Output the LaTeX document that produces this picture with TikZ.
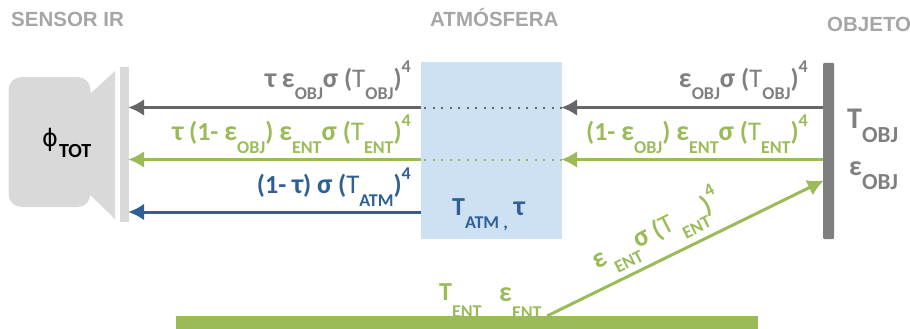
\documentclass[tikz,border=0pt]{standalone}
\usepackage{fontspec}
\setmainfont{Carlito}
\newfontfamily\titulo{Liberation Sans}
\newfontfamily\simbolo{DejaVu Sans}
\usetikzlibrary{arrows.meta,calc}
\definecolor{azul}{HTML}{2E5F96}
\definecolor{verde}{HTML}{9BBB59}
\definecolor{gris}{HTML}{7F7F7F}
\definecolor{grisosc}{HTML}{666666}
\definecolor{grisclaro}{HTML}{D9D9D9}
\definecolor{grisletra}{HTML}{A6A6A6}
\definecolor{celeste}{HTML}{CEE1F3}
\newcommand{\bajo}[1]{\raisebox{-13pt}{\fontsize{18}{18}\selectfont\bfseries #1}}
\newcommand{\bajog}[1]{\raisebox{-14pt}{\fontsize{23}{23}\selectfont\bfseries #1}}
\newcommand{\hundido}[1]{\raisebox{-17pt}{\fontsize{18}{18}\selectfont\bfseries #1}}
\newcommand{\alto}{\raisebox{14pt}{\fontsize{18}{18}\selectfont\bfseries 4}}
\newcommand{\fino}{{\mdseries\fontsize{27}{27}\selectfont T}}
\newcommand{\griega}[1]{{\fontsize{28}{28}\selectfont #1}}
\tikzset{
  etiqueta/.style={inner sep=0pt, font=\fontsize{26}{26}\selectfont\bfseries},
  encabezado/.style={inner sep=0pt, text=grisletra, font=\titulo\fontsize{20.5}{20.5}\selectfont\bfseries},
  flecha/.style={-{Latex[length=16pt,width=17pt]}, line width=3pt, shorten >=-1pt},
  puntos/.style={line width=2pt, dash pattern=on 2pt off 6.5pt}
}
\begin{document}
\begin{tikzpicture}[x=1pt, y=-1pt, line join=round]
  \useasboundingbox (0,0) rectangle (910,329);

  \node[encabezado, anchor=base west] (tsensor) at (11,27) {SENSOR IR};
  \node[encabezado, anchor=base west] (tatm) at (430,27) {ATMÓSFERA};
  \node[encabezado, anchor=base west] (tobj) at (827,32) {OBJETO};

  % Sensor
  \fill[grisclaro] (90,94) -- (115,71) -- (115,219) -- (90,195) -- cycle;
  \node[fill=grisclaro, rounded corners=13pt, minimum width=82pt, minimum height=130pt, inner sep=0pt] (sensor) at (49.5,142) {};
  \node[fill=grisclaro, minimum width=9pt, minimum height=155pt, inner sep=0pt] (placa) at (124.5,144.5) {};
  \node[etiqueta, anchor=base west, text=black] (fi) at (42,146) {{\simbolo\mdseries\fontsize{24}{24}\selectfont ϕ}\kern1pt\raisebox{-11pt}{\fontsize{20}{20}\selectfont\bfseries TOT}};

  % Atmósfera y objeto
  \node[fill=celeste, minimum width=141pt, minimum height=177pt, inner sep=0pt] (atm) at (491.5,150.5) {};
  \node[fill=gris, rounded corners=1pt, minimum width=11pt, minimum height=176pt, inner sep=0pt] (barra) at (828.5,151) {};
  \node[etiqueta, anchor=base west, text=azul] (tatmos) at (452,215) {Τ\bajo{ATM ,}\kern6pt\griega{τ}};
  \node[etiqueta, anchor=base west, text=gris] (tobjeto) at (847,128) {\fontsize{30}{30}\selectfont Τ\bajog{OBJ}};
  \node[etiqueta, anchor=base west, text=gris] (eobjeto) at (849,175) {\griega{ε}\bajog{OBJ}};

  \coordinate (g) at (barra.west |- 0,107.5);
  \coordinate (v) at (barra.west |- 0,159.5);
  \coordinate (a) at (atm.west |- 0,212);
  \coordinate (e) at (barra.west |- 0,181);
  \coordinate (s) at (547,316);

  % Flechas
  \draw[flecha, grisosc] (g) -- (atm.east |- g);
  \draw[puntos, grisosc] (atm.east |- g) -- (atm.west |- g);
  \draw[flecha, grisosc] (atm.west |- g) -- (placa.east |- g);
  \draw[flecha, verde] (v) -- (atm.east |- v);
  \draw[puntos, verde] (atm.east |- v) -- (atm.west |- v);
  \draw[flecha, verde] (atm.west |- v) -- (placa.east |- v);
  \draw[flecha, azul] (a) -- (placa.east |- a);
  \draw[flecha, verde] (s) -- (e);

  % Etiquetas
  \node[etiqueta, anchor=base east, text=gris] (l1) at (411,87) {\griega{τ} \griega{ε}\bajo{OBJ}\griega{σ} (\fino\bajo{OBJ})\alto};
  \node[etiqueta, anchor=base east, text=verde] (l2) at (411,140) {\griega{τ} (1- \griega{ε}\bajo{OBJ}) \griega{ε}\bajo{ENT}\griega{σ} (\fino\bajo{ENT})\alto};
  \node[etiqueta, anchor=base east, text=azul] (l3) at (411,193) {(1- \griega{τ}) \griega{σ} (\fino\bajo{ATM})\alto};
  \node[etiqueta, anchor=base east, text=gris] (r1) at (808,87) {\griega{ε}\bajo{OBJ}\griega{σ} (\fino\bajo{OBJ})\alto};
  \node[etiqueta, anchor=base east, text=verde] (r2) at (808,140) {(1- \griega{ε}\bajo{OBJ}) \griega{ε}\bajo{ENT}\griega{σ} (\fino\bajo{ENT})\alto};
  \node[etiqueta, anchor=base west, text=verde, rotate=27] (r3) at (597,270) {\griega{ε}\,\bajo{ENT}\griega{σ} (\fino\,\bajo{ENT})\alto};

  % Fuente
  \node[etiqueta, anchor=base west, text=verde] (tfuente) at (439,300) {Τ\hundido{ENT}};
  \node[etiqueta, anchor=base west, text=verde] (efuente) at (499,301) {\griega{ε}\hundido{ENT}};
  \node[fill=verde, minimum width=582pt, minimum height=13pt, inner sep=0pt] (fuente) at (467,322.5) {};
\end{tikzpicture}
\end{document}
